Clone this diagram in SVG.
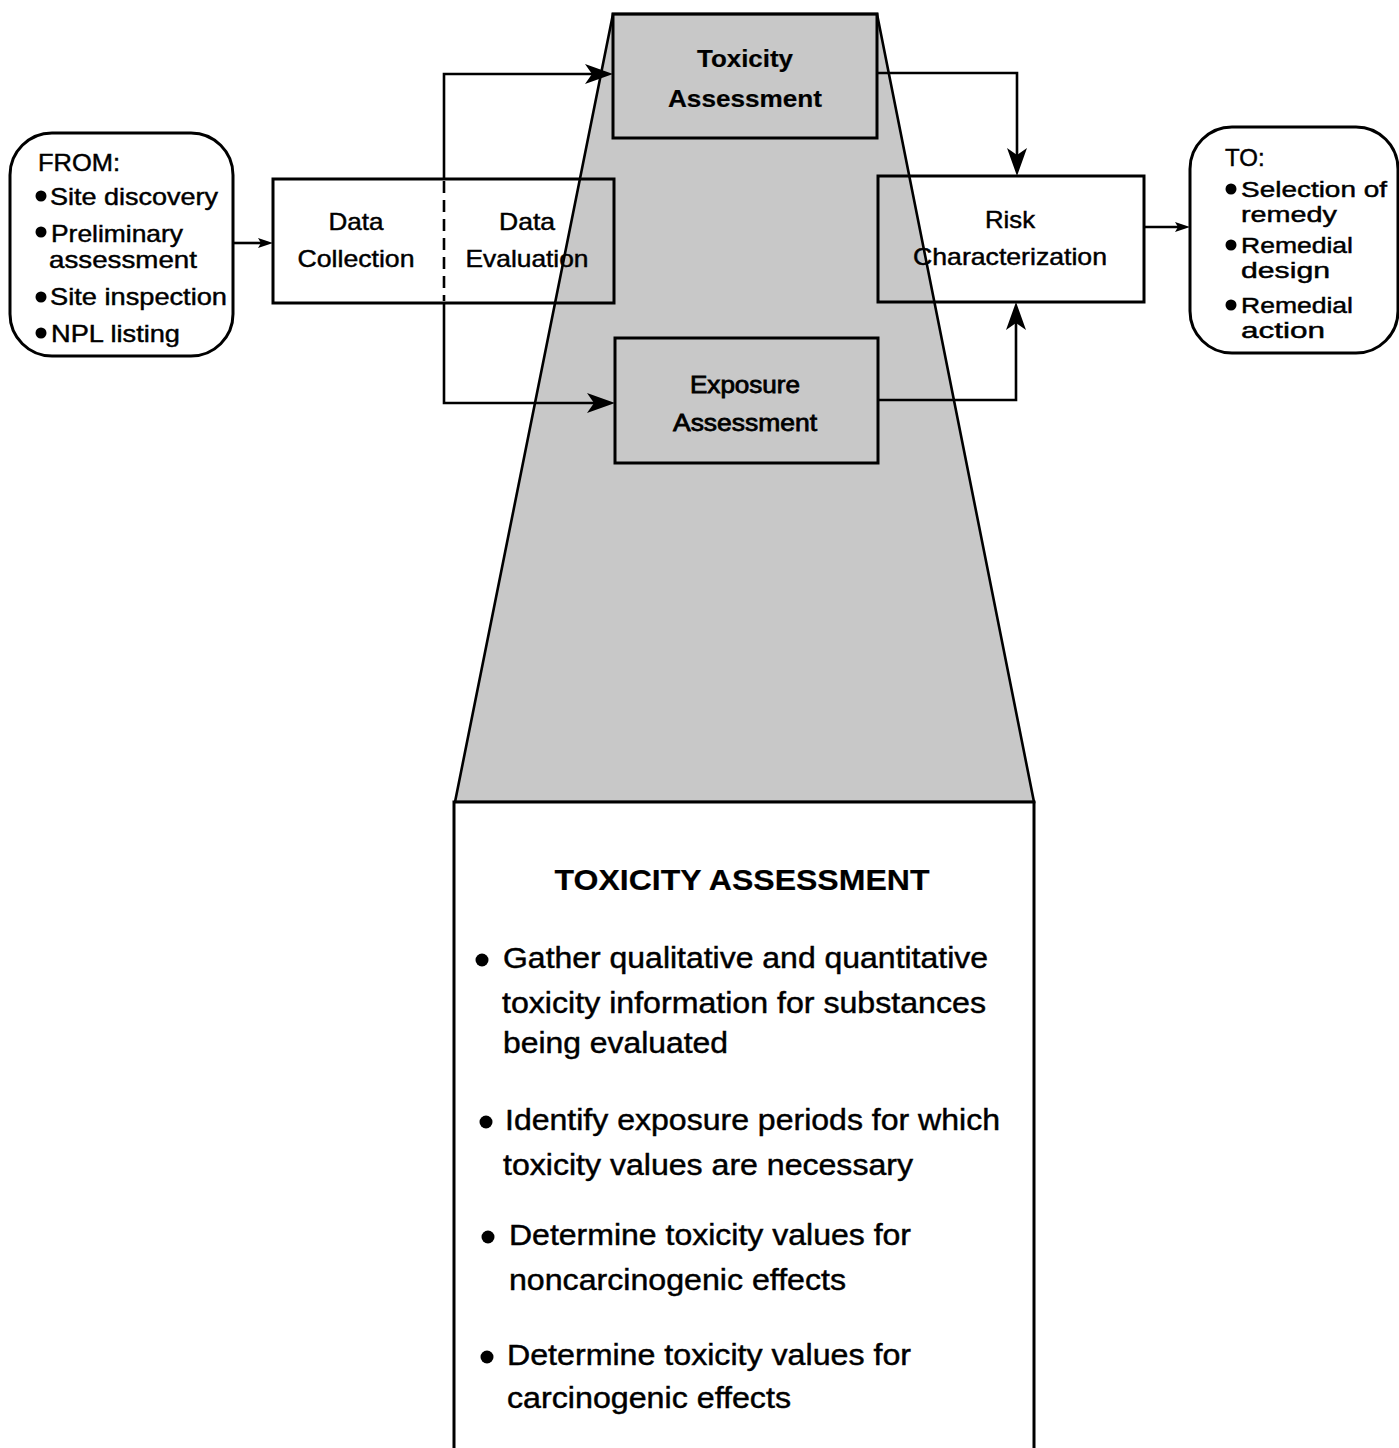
<svg xmlns="http://www.w3.org/2000/svg" xmlns:xlink="http://www.w3.org/1999/xlink" width="1399" height="1448" viewBox="0 0 1399 1448">
<style>
.box{fill:none;stroke:#000;stroke-width:3}
.rbox{fill:#fff;stroke:#000;stroke-width:3}
.ln{fill:none;stroke:#000;stroke-width:2.6}
.t{font-family:"Liberation Sans",Arial,Helvetica,sans-serif;fill:#000;stroke:#000;stroke-width:0.45}
.s24{font-size:24px}
.s22{font-size:22px}
.b{font-weight:bold;stroke-width:0.2}
.med{stroke-width:0.8}
.s29{font-size:29px}
.c{text-anchor:middle}
</style>
<defs>
<path id="big" d="M0,0 L-28,-10 L-21,0 L-28,10 Z" fill="#000"/>
<path id="small" d="M0,0 L-15,-5 L-12,0 L-15,5 Z" fill="#000"/>
</defs>
<rect x="0" y="0" width="1399" height="1448" fill="#fff"/>

<g id="zoom-funnel">
<polygon points="613,14 877,14 1034,802 455,802" fill="#c8c8c8" stroke="#000" stroke-width="2.6"/>
</g>

<g id="detail-box">
<rect x="454" y="802" width="580" height="660" fill="#fff" stroke="#000" stroke-width="3"/>
<text class="t b c" x="742" y="890" font-size="30" textLength="375" lengthAdjust="spacingAndGlyphs">TOXICITY ASSESSMENT</text>
<circle cx="482" cy="960" r="6.5"/>
<text class="t s29" x="503" y="968" textLength="485" lengthAdjust="spacingAndGlyphs">Gather qualitative and quantitative</text>
<text class="t s29" x="502" y="1013" textLength="484" lengthAdjust="spacingAndGlyphs">toxicity information for substances</text>
<text class="t s29" x="503" y="1053" textLength="225" lengthAdjust="spacingAndGlyphs">being evaluated</text>
<circle cx="486" cy="1122" r="6.5"/>
<text class="t s29" x="505" y="1130" textLength="495" lengthAdjust="spacingAndGlyphs">Identify exposure periods for which</text>
<text class="t s29" x="503" y="1175" textLength="410" lengthAdjust="spacingAndGlyphs">toxicity values are necessary</text>
<circle cx="488" cy="1237" r="6.5"/>
<text class="t s29" x="509" y="1245" textLength="402" lengthAdjust="spacingAndGlyphs">Determine toxicity values for</text>
<text class="t s29" x="509" y="1290" textLength="337" lengthAdjust="spacingAndGlyphs">noncarcinogenic effects</text>
<circle cx="487" cy="1357" r="6.5"/>
<text class="t s29" x="507" y="1365" textLength="404" lengthAdjust="spacingAndGlyphs">Determine toxicity values for</text>
<text class="t s29" x="507" y="1408" textLength="284" lengthAdjust="spacingAndGlyphs">carcinogenic effects</text>
</g>

<g id="from">
<rect class="rbox" x="10" y="133" width="223" height="223" rx="42" ry="42"/>
<text class="t s24" x="38" y="171" textLength="82" lengthAdjust="spacingAndGlyphs">FROM:</text>
<circle cx="41" cy="196" r="5.5"/>
<text class="t s24" x="50" y="205" textLength="168" lengthAdjust="spacingAndGlyphs">Site discovery</text>
<circle cx="41" cy="232" r="5.5"/>
<text class="t s24" x="51" y="242" textLength="132" lengthAdjust="spacingAndGlyphs">Preliminary</text>
<text class="t s24" x="49" y="268" textLength="148" lengthAdjust="spacingAndGlyphs">assessment</text>
<circle cx="41" cy="297" r="5.5"/>
<text class="t s24" x="50" y="305" textLength="177" lengthAdjust="spacingAndGlyphs">Site inspection</text>
<circle cx="41" cy="333" r="5.5"/>
<text class="t s24" x="51" y="342" textLength="129" lengthAdjust="spacingAndGlyphs">NPL listing</text>
</g>

<g id="data">
<rect class="box" x="273" y="179" width="341" height="124"/>
<line x1="444" y1="181" x2="444" y2="301" stroke="#000" stroke-width="2.6" stroke-dasharray="12 7"/>
<text class="t s24 c" x="356" y="230" textLength="55" lengthAdjust="spacingAndGlyphs">Data</text>
<text class="t s24 c" x="356" y="267" textLength="117" lengthAdjust="spacingAndGlyphs">Collection</text>
<text class="t s24 c" x="527" y="230" textLength="56" lengthAdjust="spacingAndGlyphs">Data</text>
<text class="t s24 c" x="527" y="267" textLength="123" lengthAdjust="spacingAndGlyphs">Evaluation</text>
</g>

<g id="toxicity">
<rect class="box" x="613" y="14" width="264" height="124"/>
<text class="t s24 b c" x="745" y="67" textLength="96" lengthAdjust="spacingAndGlyphs">Toxicity</text>
<text class="t s24 b c" x="745" y="107" textLength="154" lengthAdjust="spacingAndGlyphs">Assessment</text>
</g>

<g id="exposure">
<rect class="box" x="615" y="338" width="263" height="125"/>
<text class="t s24 c med" x="745" y="393" textLength="110" lengthAdjust="spacingAndGlyphs">Exposure</text>
<text class="t s24 c med" x="745" y="431" textLength="144" lengthAdjust="spacingAndGlyphs">Assessment</text>
</g>

<g id="risk">
<rect class="box" x="878" y="176" width="266" height="126"/>
<text class="t s24 c" x="1010" y="228" textLength="50" lengthAdjust="spacingAndGlyphs">Risk</text>
<text class="t s24 c" x="1010" y="265" textLength="194" lengthAdjust="spacingAndGlyphs">Characterization</text>
</g>

<g id="to">
<rect class="rbox" x="1190" y="127" width="208" height="226" rx="42" ry="42"/>
<text class="t s24" x="1225" y="166">TO:</text>
<circle cx="1231" cy="189" r="5.5"/>
<text class="t s22" x="1241" y="197" textLength="146" lengthAdjust="spacingAndGlyphs">Selection of</text>
<text class="t s22" x="1241" y="222" textLength="96" lengthAdjust="spacingAndGlyphs">remedy</text>
<circle cx="1231" cy="245" r="5.5"/>
<text class="t s22" x="1241" y="253" textLength="112" lengthAdjust="spacingAndGlyphs">Remedial</text>
<text class="t s22" x="1241" y="278" textLength="89" lengthAdjust="spacingAndGlyphs">design</text>
<circle cx="1231" cy="305" r="5.5"/>
<text class="t s22" x="1241" y="313" textLength="112" lengthAdjust="spacingAndGlyphs">Remedial</text>
<text class="t s22" x="1241" y="338" textLength="84" lengthAdjust="spacingAndGlyphs">action</text>
</g>

<g id="connectors">
<path class="ln" d="M233,243 H262"/>
<use xlink:href="#small" transform="translate(273,243)"/>
<path class="ln" d="M444,179 V74 H594"/>
<use xlink:href="#big" transform="translate(613,74)"/>
<path class="ln" d="M444,303 V403 H596"/>
<use xlink:href="#big" transform="translate(615,403)"/>
<path class="ln" d="M877,73 H1017 V157"/>
<use xlink:href="#big" transform="translate(1017,176) rotate(90)"/>
<path class="ln" d="M878,400 H1016 V321"/>
<use xlink:href="#big" transform="translate(1016,302) rotate(-90)"/>
<path class="ln" d="M1144,227 H1180"/>
<use xlink:href="#small" transform="translate(1190,227)"/>
</g>
</svg>
